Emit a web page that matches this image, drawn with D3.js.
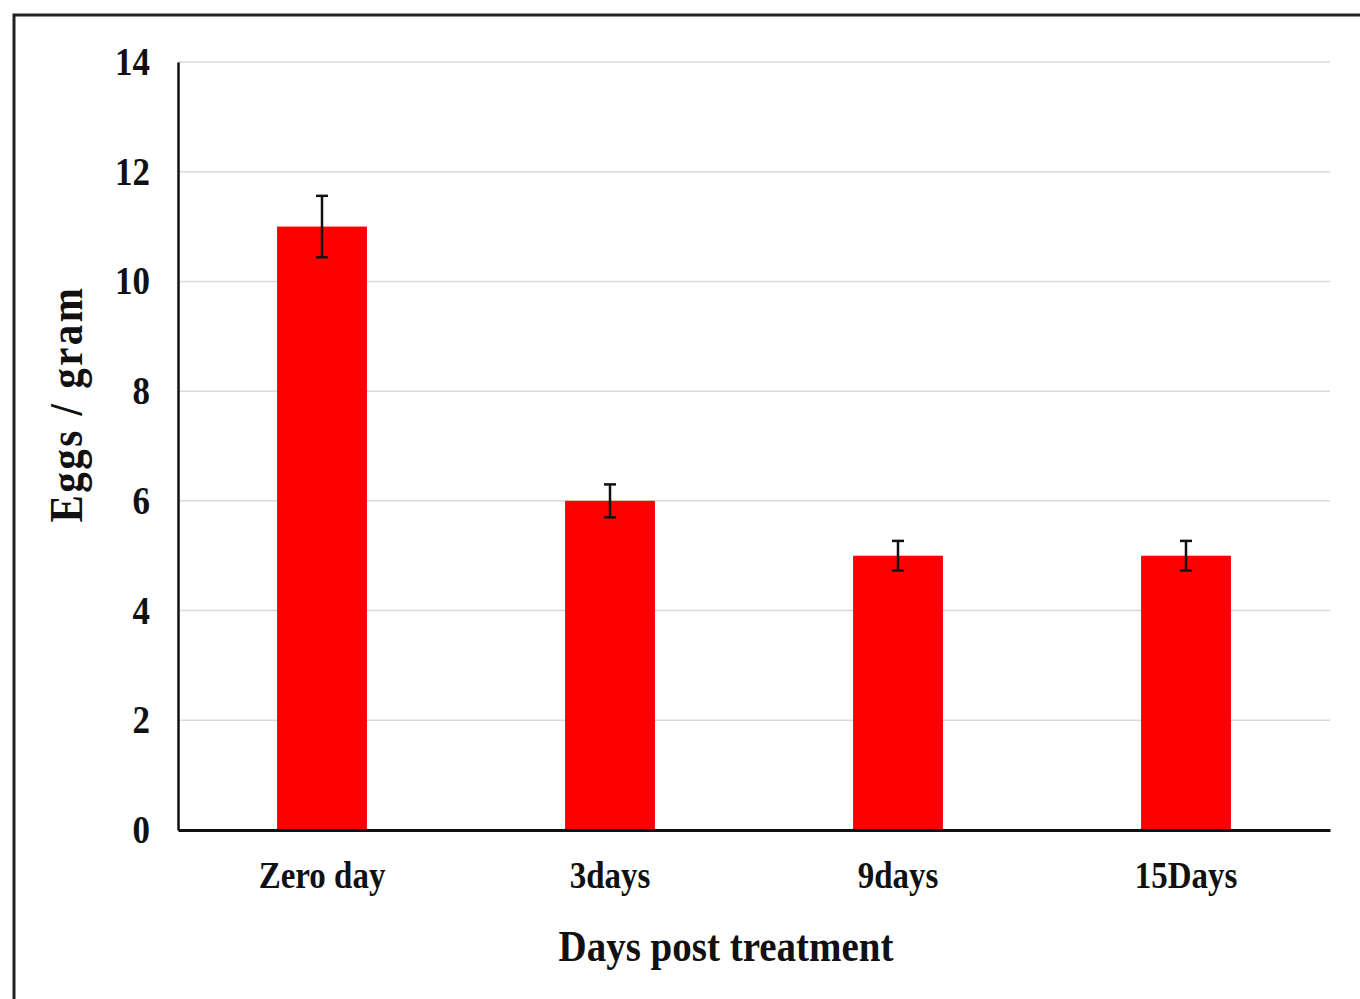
<html>
<head>
<style>
  body { margin:0; background:#fff; }
  svg text { font-family:"Liberation Serif", "Times New Roman", serif; font-weight:bold; fill:#111; }
</style>
</head>
<body>
<svg></svg>
<script src="https://cdn.jsdelivr.net/npm/d3@7"></script>
<script>
const categories = ["Zero day", "3days", "9days", "15Days"];
const values = [11, 6, 5, 5];
const errors = [0.56, 0.3, 0.27, 0.27];
const yTicks = [0, 2, 4, 6, 8, 10, 12, 14];

const width = 1360, height = 999;
const margin = {top: 62, right: 30, bottom: 169, left: 178};
const stretch = 1.12; // text in the original looks a bit taller than normal

const svg = d3.select("svg").attr("width", width).attr("height", height);

// outer frame (runs off right and bottom edge)
svg.append("rect")
    .attr("x", 14).attr("y", 15)
    .attr("width", 1400).attr("height", 1100)
    .attr("fill", "none").attr("stroke", "#222").attr("stroke-width", 3);

const x = d3.scaleBand()
    .domain(categories)
    .range([margin.left, width - margin.right])
    .paddingInner(0.688).paddingOuter(0.344);

const y = d3.scaleLinear()
    .domain([0, 14])
    .range([height - margin.bottom, margin.top]);

// gridlines
svg.append("g").selectAll("line")
    .data(yTicks.filter(d => d > 0))
    .join("line")
    .attr("x1", margin.left).attr("x2", width - margin.right)
    .attr("y1", d => y(d)).attr("y2", d => y(d))
    .attr("stroke", "#d9d9d9").attr("stroke-width", 1.5);

// y axis
const gy = svg.append("g")
    .attr("transform", `translate(${margin.left},0)`)
    .call(d3.axisLeft(y).tickValues(yTicks).tickSize(0).tickPadding(28));
gy.select(".domain").attr("stroke", "#111").attr("stroke-width", 2.5);
gy.selectAll("text").attr("font-size", 35).attr("fill", "#111")
    .attr("transform", `scale(1,${stretch})`);

// bars
svg.append("g").selectAll("rect")
    .data(values)
    .join("rect")
    .attr("x", (d, i) => x(categories[i]))
    .attr("y", d => y(d))
    .attr("width", x.bandwidth())
    .attr("height", d => y(0) - y(d))
    .attr("fill", "#ff0000");

// x axis
const gx = svg.append("g")
    .attr("transform", `translate(0,${y(0)})`)
    .call(d3.axisBottom(x).tickSize(0).tickPadding(28));
gx.select(".domain").attr("stroke", "#111").attr("stroke-width", 3);
gx.selectAll("text").attr("font-size", 33).attr("fill", "#111")
    .attr("transform", `scale(1,${stretch})`);

// error bars
const eb = svg.append("g").attr("stroke", "#111").attr("stroke-width", 2.5);
values.forEach((v, i) => {
  const cx = x(categories[i]) + x.bandwidth() / 2;
  eb.append("line").attr("x1", cx).attr("x2", cx)
      .attr("y1", y(v + errors[i])).attr("y2", y(v - errors[i]));
  [v + errors[i], v - errors[i]].forEach(e => {
    eb.append("line").attr("x1", cx - 6).attr("x2", cx + 6)
        .attr("y1", y(e)).attr("y2", y(e));
  });
});

// axis titles
svg.append("text")
    .attr("transform", `translate(726,961) scale(1,${stretch})`)
    .attr("text-anchor", "middle")
    .attr("font-size", 39)
    .text("Days post treatment");

svg.append("text")
    .attr("transform", `translate(82,404) rotate(-90) scale(1,${stretch})`)
    .attr("text-anchor", "middle")
    .attr("font-size", 41)
    .attr("letter-spacing", 2.5)
    .text("Eggs / gram");
</script>
</body>
</html>
